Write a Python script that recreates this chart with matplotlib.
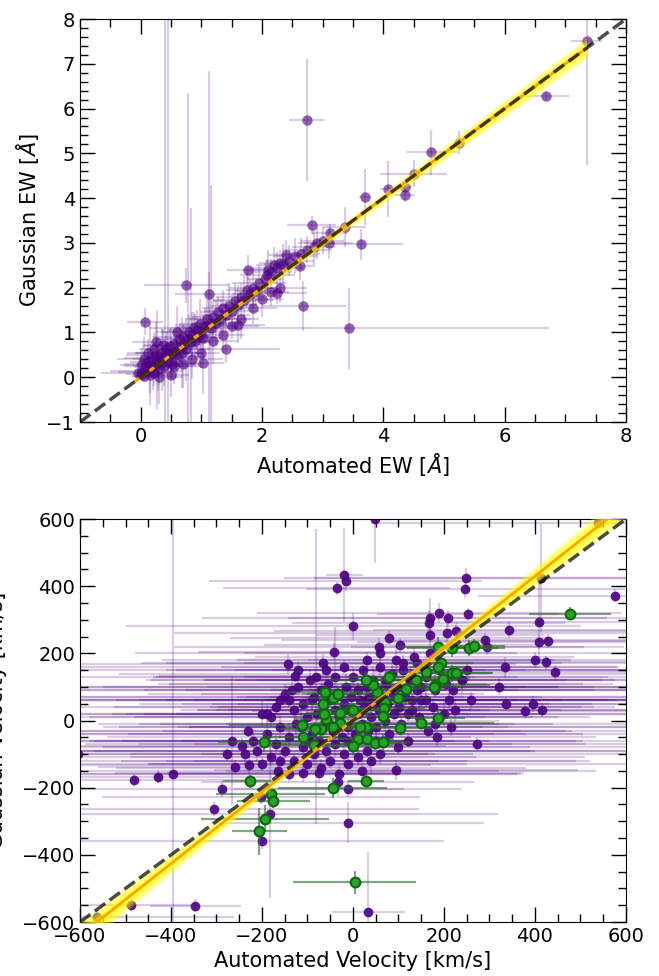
import numpy as np
import matplotlib
matplotlib.use('Agg')
import matplotlib.pyplot as plt
from matplotlib.ticker import MultipleLocator

# ---- top panel: equivalent widths (Angstrom) ----
ew_auto = [2.74, 7.35, 6.68, 4.79, 5.25, 4.50, 4.07, 4.36, 4.36, 3.70,
           2.82, 3.63, 3.43, 2.68, 3.36, 3.12, 0.75, 0.07, 1.12, 1.40,
           1.02, 1.60, 1.77, 0.26, 2.24, 2.40, 2.62, 2.09,
           0.00, 0.03, 0.05, 0.08, 0.10, 0.12, 0.15, 0.18, 0.20, 0.22,
           0.25, 0.28, 0.30, 0.33, 0.35, 0.38, 0.40, 0.42, 0.45, 0.48,
           0.50, 0.52, 0.55, 0.58, 0.60, 0.63, 0.65, 0.68, 0.70, 0.72,
           0.75, 0.78, 0.80, 0.83, 0.85, 0.88, 0.90, 0.93, 0.95, 0.98,
           1.00, 1.03, 1.06, 1.10, 1.13, 1.16, 1.20, 1.24, 1.28, 1.32,
           1.36, 1.40, 1.45, 1.50, 1.55, 1.60, 1.65, 1.70, 1.75, 1.80,
           1.85, 1.90, 1.95, 2.05, 2.10, 2.15, 2.20, 2.25, 2.30, 2.35,
           2.45, 2.55, 2.65, 2.75, 2.85, 2.90, 3.00, 3.10,
           0.30, 0.50, 0.55, 0.70, 0.85, 1.00, 1.20, 1.35, 1.50, 1.65,
           1.85, 2.00, 2.15, 2.30,
           -0.05, 0.02, 0.06, 0.12, 0.16, 0.22, 0.27, 0.36, 0.44, 0.60]
ew_gauss = [5.75, 7.50, 6.27, 5.02, 5.24, 4.55, 4.20, 4.25, 4.06, 4.03,
            3.40, 2.97, 1.09, 1.59, 3.36, 3.22, 2.05, 1.24, 1.86, 0.62,
            0.32, 1.17, 2.39, 0.79, 1.88, 2.72, 2.48, 2.29,
            0.08, 0.12, 0.02, 0.25, 0.15, 0.35, 0.05, 0.42, 0.22, 0.10,
            0.50, 0.30, 0.18, 0.55, 0.40, 0.25, 0.45, 0.62, 0.35, 0.70,
            0.52, 0.30, 0.75, 0.58, 0.45, 0.85, 0.68, 0.55, 0.90, 0.75,
            0.62, 0.85, 1.00, 0.78, 0.95, 1.10, 0.82, 1.05, 0.90, 1.20,
            1.00, 0.88, 1.15, 1.30, 1.20, 1.10, 1.35, 1.22, 1.45, 1.30,
            1.55, 1.40, 1.60, 1.48, 1.70, 1.62, 1.80, 1.72, 1.95, 1.85,
            2.00, 1.92, 2.10, 2.20, 2.40, 2.35, 2.50, 2.45, 2.55, 2.52,
            2.60, 2.70, 2.75, 2.85, 2.90, 3.00, 3.05, 3.00,
            0.00, 0.05, 0.25, 0.30, 0.40, 0.55, 0.80, 0.95, 1.15, 1.30,
            1.55, 1.75, 1.90, 2.00,
            0.10, 0.30, 0.40, 0.55, 0.28, 0.62, 0.40, 0.72, 0.55, 1.00]
ew_auto_err = [0.29, 0.25, 0.38, 0.42, 0.10, 0.55, 0.12, 0.12, 0.17, 0.10,
               0.40, 0.70, 3.30, 0.70, 0.35, 0.30, 0.70, 0.30, 0.55, 0.90,
               0.35, 0.45, 0.35, 0.40, 0.50, 0.30, 0.25, 0.45,
               0.25, 0.40, 0.20, 0.35, 0.60, 0.30, 0.25, 0.45, 0.30, 0.20,
               0.50, 0.35, 0.25, 0.40, 0.30, 0.50, 0.30, 0.35, 0.25, 0.45,
               0.30, 0.40, 0.35, 0.25, 0.50, 0.40, 0.30, 0.35, 0.50, 0.25,
               0.40, 0.30, 0.45, 0.35, 0.30, 0.40, 0.25, 0.50, 0.30, 0.35,
               0.45, 0.30, 0.40, 0.35, 0.30, 0.45, 0.35, 0.40, 0.30, 0.50,
               0.35, 0.40, 0.30, 0.45, 0.35, 0.30, 0.40, 0.50, 0.35, 0.30,
               0.40, 0.35, 0.45, 0.30, 0.40, 0.35, 0.30, 0.45, 0.35, 0.30,
               0.40, 0.35, 0.30, 0.40, 0.35, 0.30, 0.35, 0.40,
               0.40, 0.30, 0.45, 0.35, 0.50, 0.30, 0.40, 0.35, 0.45, 0.30,
               0.40, 0.35, 0.30, 0.45,
               0.60, 0.30, 0.45, 0.35, 0.50, 0.25, 0.40, 0.30, 0.55, 0.35]
ew_gauss_err = [1.36, 2.75, 0.10, 0.50, 0.25, 0.30, 0.62, 0.10, 0.15, 0.63,
                0.20, 0.35, 0.90, 0.55, 0.45, 0.20, 0.40, 0.30, 0.50, 0.30,
                0.70, 0.40, 0.35, 0.45, 0.25, 0.35, 0.30, 0.35,
                0.15, 0.20, 0.10, 0.20, 0.25, 0.30, 0.40, 0.25, 0.50, 0.30,
                0.30, 0.60, 0.35, 0.25, 0.70, 0.45, 8.00, 0.30, 8.00, 0.40,
                0.55, 0.35, 0.30, 0.60, 0.40, 0.35, 0.50, 0.80, 0.30, 0.45,
                0.70, 5.50, 0.40, 3.00, 0.50, 0.35, 0.60, 0.45, 0.40, 0.55,
                0.30, 0.50, 0.40, 0.45, 5.65, 3.20, 0.40, 0.50, 0.35, 0.45,
                0.40, 0.30, 0.50, 0.35, 0.40, 0.45, 0.30, 0.55, 0.40, 0.35,
                0.45, 0.30, 0.40, 0.35, 0.45, 0.30, 0.40, 0.35, 0.30, 0.45,
                0.35, 0.40, 0.35, 0.30, 0.40, 0.35, 0.30, 0.35,
                0.60, 0.50, 0.40, 0.55, 0.45, 0.35, 0.50, 0.40, 0.30, 0.45,
                0.35, 0.40, 0.30, 0.35,
                0.20, 0.35, 0.50, 0.30, 0.90, 0.40, 1.10, 0.35, 0.45, 0.60]
ew_fit = (1.0, 0.0)          # slope, intercept
ew_fit_range = (-0.08, 7.35)

# ---- bottom panel: velocities (km/s) ----
vel_auto = [48, -19, -16, -36, 248, 247, 575, 414, 539, 252,
            343, 408, 408, 429, 401, 424, 443, 334, 320, 336,
            378, 396, 415, 273, 295, 291, 166, 169, 190, 208,
            169, 206, 226, 1, -41, 80, 57, 104, -142, -66,
            -127, -82, -267, -277, -245, -237, -260, -229, -481, -428,
            -396, -287, -305, -489, -347, -562, 34, -11, 94, -12,
            -33, -182, -199, -202, -109, -74, -605,
            -150, -140, -130, -120, -115, -110, -100, -95, -90, -85,
            -80, -75, -70, -65, -60, -55, -50, -45, -40, -35,
            -30, -25, -20, -15, -10, -5, 0, 0, 5, 10,
            12, 15, 20, 22, 25, 30, 32, 35, 40, 45,
            48, 50, 55, 58, 60, 65, 70, 72, 75, 80,
            85, 88, 90, 95, 100, 102, 105, 110, 115, 120,
            125, 130, 135, 140, 145, 150, 160, 165, 170, 175,
            180, 185, 190, 200, 205, 210, 215, 220, 225,
            -220, -210, -200, -190, -180, -170, -165, -160, -150, -140,
            -130, -125, -110, -100, -95, -85, -70, -60, -50, -40,
            -30, -20, -10, 0, 10, 20, 30, 40, 50, 60,
            -180, -170, -200, -160, -135, 110, 130, 150, 240, 250,
            -120, -60, -20, 30, 60, 140, 160, 180, 120, 240,
            -190, -230, -160, -140, -90, -40, 30, 70, 100, 150,
            260, -10]
vel_gauss = [600, 433, 415, 394, 425, 391, 372, 424, 589, 316,
             271, 294, 233, 237, 180, 173, 144, 158, 101, 50,
             29, 49, 32, -69, 220, 240, 289, 304, 319, 304,
             255, 261, 266, 281, 205, 246, 220, 225, 169, 172,
             134, 131, -61, -101, -77, -101, -139, -133, -178, -167,
             -160, -204, -263, -548, -551, -585, -571, -304, -148, -204,
             -184, -278, -358, -228, -157, -157, -100,
             80, 60, 30, 100, -20, 50, 10, 120, -40, 70,
             20, -60, 90, 40, -10, 110, 60, -30, 130, 80,
             10, -50, 50, 100, -20, 70, 130, 30, -40, 90,
             20, 60, -10, 150, 40, 100, -30, 70, 10, 120,
             50, -20, 90, 30, 160, 70, 0, 110, 50, -40,
             140, 80, 20, 180, 100, 40, -10, 150, 70, -60,
             120, 30, 190, 90, 10, 60, 130, -30, 200, 40,
             90, -50, 150, 20, 110, 60, -20, 90, 30,
             -60, -90, -130, -40, -110, -70, -150, -20, -90, -50,
             -120, -10, -80, -130, -60, -100, -140, -90, -120, -70,
             -160, -100, -130, -70, -110, -150, -90, -120, -60, -100,
             10, 40, 20, 60, 90, 170, 60, 100, 120, 150,
             150, 150, 160, 180, 200, 170, 60, -10, 20, 120,
             20, -30, -120, -160, 60, 30, 60, 120, -80, 100,
             60, -60]
vel_auto_err = [60, 40, 300, 250, 400, 350, 300, 500, 500, 200,
                300, 200, 400, 350, 500, 300, 400, 250, 450, 300,
                600, 350, 400, 500, 300, 450, 300, 500, 400, 350,
                250, 600, 400, 500, 300, 350, 450, 300, 500, 400,
                300, 350, 400, 350, 450, 500, 300, 400, 300, 250,
                500, 400, 450, 150, 100, 300, 80, 300, 400, 250,
                300, 500, 400, 350, 300, 450, 0,
                300, 500, 250, 650, 400, 200, 550, 350, 700, 150,
                450, 300, 600, 250, 500, 350, 150, 650, 400, 300,
                550, 200, 450, 700, 350, 250, 600, 300, 500, 150,
                400, 650, 300, 200, 550, 350, 450, 700, 250, 500,
                300, 600, 150, 400, 350, 700, 250, 500, 450, 300,
                600, 200, 550, 350, 650, 400, 250, 500, 300, 700,
                450, 150, 350, 600, 250, 500, 400, 300, 650, 200,
                550, 350, 450, 700, 300, 250, 600, 400, 500,
                350, 600, 250, 500, 450, 300, 700, 200, 550, 400,
                650, 300, 500, 350, 600, 250, 450, 700, 300, 550,
                400, 200, 650, 350, 500, 300, 600, 450, 250, 550,
                300, 700, 400, 250, 500, 350, 600, 300, 450, 400,
                500, 350, 600, 450, 300, 550, 400, 650, 300, 500,
                450, 600, 350, 500, 700, 300, 550, 400, 650, 300,
                450, 500]
vel_gauss_err = [130, 140, 30, 20, 30, 25, 20, 160, 20, 20,
                 25, 120, 20, 20, 25, 20, 20, 30, 25, 20,
                 20, 25, 20, 20, 25, 20, 40, 60, 30, 25,
                 25, 30, 25, 40, 25, 20, 25, 20, 30, 25,
                 20, 440, 190, 20, 25, 30, 20, 25, 20, 20,
                 800, 25, 20, 20, 20, 20, 180, 60, 30, 25,
                 40, 250, 25, 20, 25, 30, 0,
                 30, 20, 40, 25, 60, 20, 35, 30, 80, 25,
                 20, 45, 30, 120, 25, 40, 20, 30, 150, 25,
                 35, 20, 30, 40, 25, 60, 30, 20, 45, 25,
                 30, 20, 35, 25, 40, 90, 20, 30, 25, 40,
                 20, 30, 25, 70, 35, 20, 30, 25, 40, 20,
                 30, 25, 20, 45, 30, 20, 35, 25, 30, 20,
                 40, 25, 30, 20, 35, 25, 60, 20, 30, 25,
                 20, 30, 25, 40, 20, 30, 25, 20, 35,
                 25, 30, 20, 40, 25, 30, 20, 35, 25, 30,
                 20, 45, 25, 30, 20, 35, 25, 30, 20, 40,
                 25, 30, 20, 35, 25, 30, 20, 40, 25, 30,
                 30, 25, 40, 20, 35, 25, 30, 20, 40, 25,
                 25, 30, 20, 25, 20, 25, 20, 30, 20, 25,
                 25, 20, 30, 20, 25, 20, 30, 25, 20, 20,
                 25, 20]

vel_auto_green = [476, 4, -226, -196, 28, -45, -181, -175, -193, -206,
                  254, 265, 187, 218, 186, 149, 103, 218, 226, 198,
                  181, 179, 161, 138, 117, 100, 80, 53, 44, 28,
                  70, 68, 67, 28, 15, 12, 30, -1, 49, 66,
                  -5, 1, -29, -28, -45, -60, -64, -70, -84, -62,
                  -45, -32, -66, -112, -110, -86, 194, 186]
vel_gauss_green = [318, -482, -181, -64, -179, -202, -220, -241, -293, -329,
                   216, 223, 218, 215, 7, -6, -22, 141, 141, 124,
                   105, 99, 146, 121, 94, 67, 131, 86, 106, 121,
                   55, 37, 14, -18, -20, -54, -54, -77, -67, -65,
                   30, 32, 22, -6, -18, 4, 20, -26, -26, 86,
                   67, 78, 48, -14, -48, -72, 170, 160]
vel_auto_err_green = [90, 135, 60, 100, 40, 120, 120, 80, 140, 60,
                      80, 70, 90, 100, 60, 160, 70, 90, 80, 60,
                      120, 70, 90, 60, 80, 70, 90, 60, 70, 80,
                      60, 90, 70, 60, 80, 70, 60, 90, 70, 60,
                      80, 60, 70, 60, 80, 70, 60, 90, 70, 80,
                      60, 70, 60, 160, 80, 100, 70, 60]
vel_gauss_err_green = [20, 35, 20, 30, 20, 30, 20, 20, 40, 70,
                       25, 20, 30, 25, 20, 20, 20, 25, 20, 20,
                       30, 20, 25, 20, 20, 25, 20, 20, 20, 25,
                       20, 20, 25, 20, 20, 25, 20, 20, 20, 25,
                       20, 20, 20, 25, 20, 20, 20, 25, 20, 20,
                       20, 25, 20, 20, 25, 20, 20, 20]
vel_fit = (1.07, 2.0)       # slope, intercept


def fit_band(ax, fit, xr, base, grow, zorder=3):
    x = np.linspace(xr[0], xr[1], 200)
    y = fit[0] * x + fit[1]
    w = np.sqrt(base**2 + (grow * x)**2)
    for k in [1.0, 0.8, 0.6, 0.45, 0.3]:
        ax.fill_between(x, y - k * w, y + k * w, color='yellow', alpha=0.25,
                        lw=0, zorder=zorder)
    ax.plot(x, y, color='orange', lw=2, zorder=zorder + 0.1)


def style(ax, major, minor):
    ax.xaxis.set_major_locator(MultipleLocator(major[0]))
    ax.xaxis.set_minor_locator(MultipleLocator(minor[0]))
    ax.yaxis.set_major_locator(MultipleLocator(major[1]))
    ax.yaxis.set_minor_locator(MultipleLocator(minor[1]))
    ax.tick_params(which='both', direction='in', top=True, right=True,
                   labelsize=14)
    ax.tick_params(which='major', length=11, width=1)
    ax.tick_params(which='minor', length=5.5, width=1)


fig = plt.figure(figsize=(6.59, 9.76), dpi=100)
ax1 = fig.add_axes([0.1214, 0.5676, 0.8285, 0.4129])
ax2 = fig.add_axes([0.1214, 0.0553, 0.8285, 0.4129])

# top panel
ax1.errorbar(ew_auto, ew_gauss, xerr=ew_auto_err, yerr=ew_gauss_err,
             fmt='none', ecolor='#4B0082', alpha=0.2, elinewidth=1.6, zorder=1)
ax1.plot(ew_auto, ew_gauss, 'o', color='#4B0082', alpha=0.6, ms=7.5, mew=0,
         zorder=2)
fit_band(ax1, ew_fit, ew_fit_range, 0.03, 0.032)
ax1.plot([-1, 8], [-1, 8], ls='--', color='k', alpha=0.7, lw=2.5, zorder=5)
ax1.set_xlim(-1, 8)
ax1.set_ylim(-1, 8)
style(ax1, (2, 1), (0.5, 0.2))
ax1.set_xlabel('Automated EW [$\\AA$]', fontsize=15)
ax1.set_ylabel('Gaussian EW [$\\AA$]', fontsize=15)

# bottom panel
ax2.errorbar(vel_auto, vel_gauss, xerr=vel_auto_err, yerr=vel_gauss_err,
             fmt='none', ecolor='#4B0082', alpha=0.2, elinewidth=1.6, zorder=1)
ax2.plot(vel_auto, vel_gauss, 'o', color='#4B0082', alpha=0.9, ms=7, mew=0,
         zorder=2)
ax2.errorbar(vel_auto_green, vel_gauss_green, xerr=vel_auto_err_green,
             yerr=vel_gauss_err_green, fmt='none', ecolor='#2E6B2E',
             alpha=0.6, elinewidth=1.6, zorder=2.5)
ax2.plot(vel_auto_green, vel_gauss_green, 'o', mfc='#2CA02C', mec='#0B6B0B',
         mew=1.5, ms=7, zorder=2.6)
fit_band(ax2, vel_fit, (-650, 650), 4, 0.075)
ax2.plot([-600, 600], [-600, 600], ls='--', color='k', alpha=0.7, lw=2.5,
         zorder=5)
ax2.set_xlim(-600, 600)
ax2.set_ylim(-600, 600)
style(ax2, (200, 200), (50, 50))
ax2.set_xlabel('Automated Velocity [km/s]', fontsize=15)
ax2.set_ylabel('Gaussian Velocity [km/s]', fontsize=15)
ax2.yaxis.set_label_coords(-0.134, 0.5)

fig.savefig('out.png', dpi=100)
